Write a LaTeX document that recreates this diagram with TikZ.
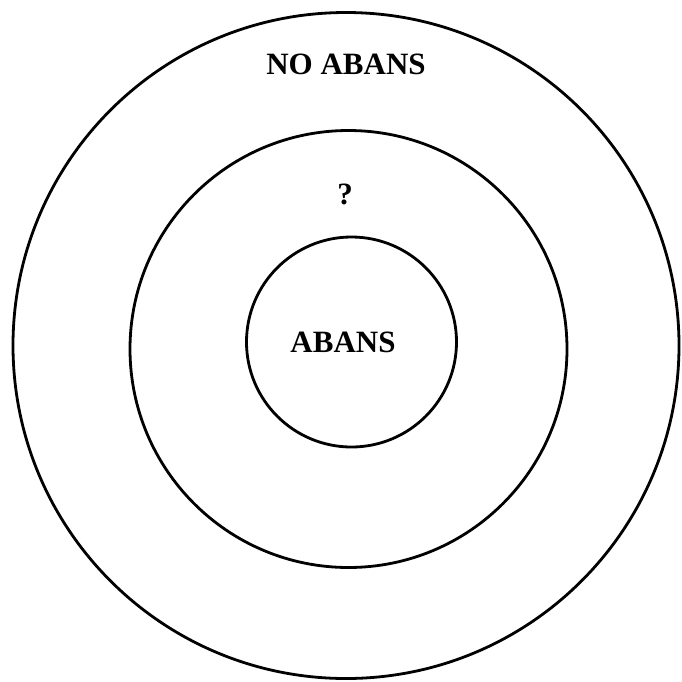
\documentclass[tikz,border=0pt]{standalone}
\usepackage{fontspec}
\setmainfont{Liberation Serif}
\begin{document}
\begin{tikzpicture}[x=1pt,y=-1pt,
  ring/.style={circle,draw=black,line width=2.8pt,inner sep=0pt},
  lbl/.style={font=\bfseries\fontsize{31}{36}\selectfont,inner sep=0pt,anchor=base}]
\useasboundingbox (0,0) rectangle (682,681);
\node[ring,minimum size=666pt] (outer) at (346,345.5) {};
\node[ring,minimum size=437pt] (middle) at (348.5,349) {};
\node[ring,minimum size=210pt] (inner) at (351.5,342) {};
\node[lbl] (noabans) at (346,74) {NO ABANS};
\node[lbl] (q) at (345,204) {?};
\node[lbl] (abans) at (343,352) {ABANS};
\end{tikzpicture}
\end{document}
